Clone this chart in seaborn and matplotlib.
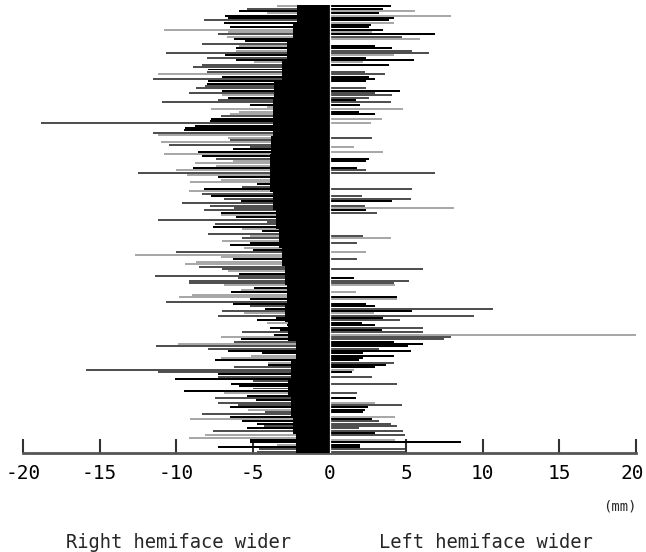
import numpy as np
import pandas as pd
import matplotlib
matplotlib.use("Agg")
import matplotlib.pyplot as plt
import matplotlib.transforms as mtransforms
import seaborn as sns

# one row per subject, top to bottom (mm); negative = right hemiface wider
left_mm = [
    -3.4, -5.4, -5.9, -4.1, -6.8, -6.6, -8.2, -6.9, -1.8, -6.5, -10.8, -6.6, -7.3,
    -6.7, -6.2, -5.5, -8.3, -5.9, -6.1, -6.1, -10.7, -6.8, -8.0, -6.1, -4.9, -8.3,
    -8.9, -7.9, -8.0, -11.2, -7.0, -11.5, -7.9, -8.0, -8.1, -8.7, -7.0, -9.2, -7.0,
    -6.6, -7.3, -10.9, -5.2, -4.1, -7.7, -5.9, -6.5, -7.1, -7.7, -7.8, -18.8, -8.8,
    -9.4, -9.5, -11.5, -11.2, -6.6,
    -6.5, -11.0, -10.5, -5.2, -6.3, -8.6, -10.8, -8.3, -7.4, -6.3, -8.8, -7.4, -8.9,
    -10.0, -12.5, -9.3, -7.3, -7.1, -9.1, -4.7, -5.7, -8.2, -9.2, -8.3, -7.7, -6.9,
    -5.8, -9.6, -7.8, -6.2, -8.2, -7.1,
    -7.1, -6.1, -11.2, -4.1, -7.5, -7.6, -5.7, -4.4, -7.9, -5.2, -5.7, -7.0, -5.2,
    -6.5, -5.6, -5.0, -10.0, -12.7, -7.1, -6.3, -8.7, -9.4, -8.5, -7.0, -6.6, -5.9,
    -11.4, -6.0, -9.2, -9.2, -6.9, -4.9, -5.8,
    -6.4, -9.0, -9.8, -5.2, -10.7, -6.3, -5.2, -4.2, -7.0, -5.6, -7.3, -3.5, -4.7,
    -4.1, -2.8, -3.9, -3.2, -5.7, -3.6, -7.1, -5.8, -6.2, -9.9, -11.3, -7.9, -6.6,
    -4.4, -5.1, -7.1, -7.5, -4.0, -4.0, -6.2, -15.9,
    -11.2, -7.3, -7.3, -10.1, -5.0, -6.4, -5.9, -5.0, -9.5, -6.9, -5.4, -7.5, -4.8,
    -7.3, -6.0, -6.5, -5.3, -4.2, -8.3, -6.5, -9.1, -5.7, -4.7, -4.3, -5.4, -7.6,
    -2.4, -8.1, -9.2, -5.2, -5.2, -3.4, -7.3, -4.6, -4.7,
]

# positive side = left hemiface wider (0 where nothing is drawn)
right_mm = [
    4.0, 3.5, 5.6, 3.2, 7.9, 4.2, 3.9, 4.2, 2.7, 2.6, 3.5, 2.8, 6.9,
    4.7, 5.9, 0, 0, 3.0, 4.1, 5.4, 6.5, 4.2, 2.4, 5.5, 2.2, 3.9,
    0, 0, 2.3, 3.6, 2.6, 3.0, 2.4, 0, 0, 2.4, 4.6, 3.0, 4.1,
    2.6, 1.7, 4.0, 2.0, 0, 4.8, 1.9, 3.0, 0, 3.4, 0, 2.7, 0,
    0, 0, 0, 0, 2.8,
    0, 0, 0, 1.6, 0, 3.5, 0, 0, 2.6, 2.4, 0, 0, 1.8,
    2.4, 6.9, 0, 0, 0, 0, 0, 0, 5.4, 0, 0, 2.1, 5.3,
    4.1, 0, 2.3, 8.1, 2.4, 3.1,
    0, 0, 0, 0, 0, 0, 0, 0, 0, 2.2, 4.0, 0, 1.8,
    0, 0, 0, 2.4, 0, 0, 1.8, 0, 0, 0, 6.1, 0, 0,
    0, 1.6, 5.2, 4.2, 4.3, 0, 0,
    1.7, 0, 4.4, 4.4, 0, 2.4, 3.0, 10.7, 5.4, 2.9, 9.4, 3.5, 4.6,
    2.1, 3.0, 6.1, 3.4, 6.1, 20.0, 7.9, 7.5, 4.2, 6.1, 5.1, 3.2, 5.3,
    2.2, 4.2, 2.2, 1.9, 4.2, 3.7, 3.0, 1.6,
    1.5, 0, 2.8, 0, 0, 4.4, 0, 0, 0, 1.8, 0, 1.7, 0,
    3.0, 4.7, 2.5, 2.3, 2.2, 0, 4.3, 2.8, 3.2, 4.0, 4.4, 1.9, 4.8,
    3.0, 4.9, 0, 4.3, 8.6, 2.0, 2.0, 4.9, 4.9,
]

# k = black, d = dark grey, l = light grey
left_tone = ("ldklkkdkkklldlkkdlkldkdkld"
             "dkdlkdkkddkdlkddklllldkkdkkkdll"
             "dlddkklkdlllkldlkllkdkldkdkddddk"
             "lkdddklkdldlkklkdllkllddlkddddlkl"
             "kllkdkdkdldkklkkkdklkdlddkkllklkdd"
             "dkdkdkkdklkdkddklddklkkdkdlllkklkdd")
right_tone = ("kklklkklkkklkdlkkkkddlkklk"
              "kkddkkkkkdkdddkdkklkkklklkkkkkd"
              "kkklklkkkkkkkddkkkkkkdkkddkkdlkd"
              "kkkkkkkkkdlkdkkklkkdkkkdkkkkddlkk"
              "lkklkkkdkldkdkkdkdlddkkkdkkkkkdkkl"
              "kkdkkdkkkdkkkldkkkklkdddddkdklkkkdd")

# solid black band near zero, read in 24 blocks top to bottom
core_mm = [-2.1, -2.4, -2.8, -3.1, -3.6, -3.7, -3.7, -3.8, -3.9, -3.9, -3.7, -3.5,
           -3.3, -3.1, -2.9, -2.8, -2.9, -2.7, -2.2, -2.5, -2.7, -2.5, -2.4, -2.2]

tick_vals = [-20, -15, -10, -5, 0, 5, 10, 15, 20]

n = len(left_mm)
assert n == len(right_mm) == len(left_tone) == len(right_tone), (
    n, len(right_mm), len(left_tone), len(right_tone))

df = pd.DataFrame({
    "row": np.arange(n),
    "left": left_mm,
    "right": right_mm,
    "ltone": list(left_tone),
    "rtone": list(right_tone),
})
core_df = pd.DataFrame({"block": np.arange(len(core_mm)), "core": core_mm})

sns.set_style("white")
plt.rcParams["font.family"] = ["DejaVu Sans Mono"]
plt.rcParams["axes.unicode_minus"] = False

pal = {"k": "#000000", "d": "#505050", "l": "#a8a8a8"}

fig = plt.figure(figsize=(6.46, 5.52), dpi=100)
ax = fig.add_axes([23 / 646, 1 - 453 / 552, 613 / 646, 448 / 552])

for col, tone in [("left", "ltone"), ("right", "rtone")]:
    sns.barplot(data=df, x=col, y="row", hue=tone, palette=pal, orient="h",
                dodge=False, width=0.85, saturation=1, errorbar=None,
                legend=False, linewidth=0, antialiased=False, ax=ax)

ax2 = ax.twinx()
sns.barplot(data=core_df, x="core", y="block", orient="h", color="black",
            width=1.0, saturation=1, errorbar=None, linewidth=0,
            antialiased=False, ax=ax2)
ax2.axvline(0, color="white", lw=0.9, zorder=5)

ax.set_xlim(-20, 20)
ax.set_ylim(n - 0.5, -0.5)
ax2.set_ylim(len(core_mm) - 0.5, -0.5)
ax.set_xticks(tick_vals)
ax.set_xticklabels([str(v) for v in tick_vals])

for a in (ax, ax2):
    a.set_xlabel("")
    a.set_ylabel("")
    a.set_yticks([])
    for s in ("top", "left", "right"):
        a.spines[s].set_visible(False)
ax2.spines["bottom"].set_visible(False)
ax.spines["bottom"].set_color("#555555")
ax.spines["bottom"].set_linewidth(2)
ax.tick_params(axis="x", bottom=True, direction="in", length=10, width=1.5,
               color="#333333", labelsize=14, pad=8, labelcolor="black")

# nudge the last label so it stays inside the canvas
last = ax.get_xticklabels()[-1]
last.set_transform(last.get_transform()
                   + mtransforms.ScaledTranslation(-4 / 100, 0, fig.dpi_scale_trans))

fig.text(620 / 646, 1 - 507 / 552, "(mm)", ha="center", va="center", fontsize=10)
fig.text(178 / 646, 1 - 543 / 552, "Right hemiface wider", ha="center",
         va="center", fontsize=13.5)
fig.text(486 / 646, 1 - 543 / 552, "Left hemiface wider", ha="center",
         va="center", fontsize=13.5)

fig.savefig("out.png", dpi=100)
